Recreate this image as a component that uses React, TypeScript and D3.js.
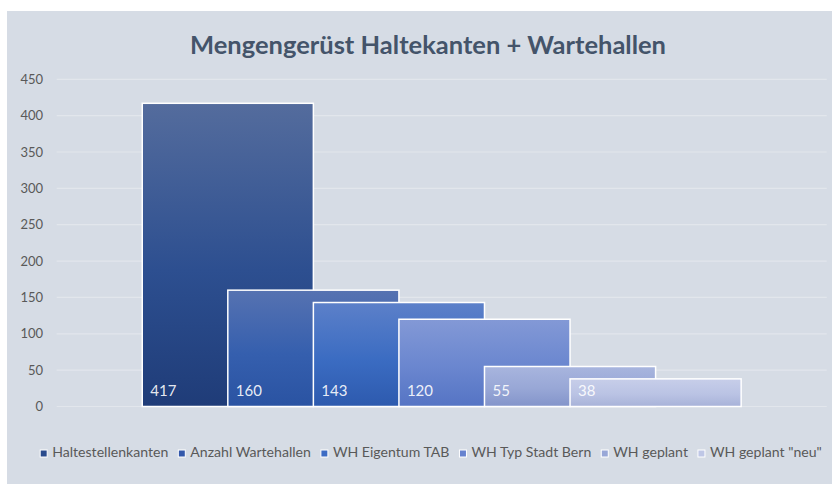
import React, { useEffect, useRef } from "react";
import * as d3 from "d3";

const series = [
  "Haltestellenkanten",
  "Anzahl Wartehallen",
  "WH Eigentum TAB",
  "WH Typ Stadt Bern",
  "WH geplant",
  'WH geplant "neu"',
];
const values = [417, 160, 143, 120, 55, 38];
const yTicks = [0, 50, 100, 150, 200, 250, 300, 350, 400, 450];

// gradient stops per series: top, middle, bottom
const gradients = [
  ["#546c9d", "#2d4f90", "#1f3c78"],
  ["#5672b1", "#355fae", "#2a53a2"],
  ["#5c80c9", "#3b6cc2", "#2d5aae"],
  ["#8399d6", "#6a86cf", "#5574c4"],
  ["#a8b5de", "#98a7d6", "#8394ca"],
  ["#c7cee9", "#bac3e4", "#a7b2d8"],
];
const swatch = ["#2a4b8d", "#3358ab", "#3d6cc4", "#6682cf", "#98a7d7", "#bfc7e6"];

const App: React.FC = () => {
  const svgRef = useRef<SVGSVGElement | null>(null);

  useEffect(() => {
    if (!svgRef.current) return;
    const svg = d3.select(svgRef.current);
    svg.selectAll("*").remove();

    const width = 832;
    const height = 484;
    const font = "Lato, 'Open Sans', sans-serif";
    const plot = { left: 56.7, right: 826.7, top: 79.3, bottom: 406.5 };

    svg.attr("width", width).attr("height", height);

    svg
      .append("rect")
      .attr("x", 7)
      .attr("y", 11)
      .attr("width", width - 7)
      .attr("height", height - 11)
      .attr("fill", "#d6dce5");

    svg
      .append("text")
      .attr("x", 428)
      .attr("y", 54)
      .attr("text-anchor", "middle")
      .attr("font-family", font)
      .attr("font-weight", 700)
      .attr("font-size", 25.5)
      .attr("fill", "#44546a")
      .text("Mengengerüst Haltekanten + Wartehallen");

    const y = d3.scaleLinear().domain([0, 450]).range([plot.bottom, plot.top]);

    // grid
    svg
      .append("g")
      .selectAll("line")
      .data(yTicks)
      .enter()
      .append("line")
      .attr("x1", plot.left)
      .attr("x2", plot.right)
      .attr("y1", (d) => y(d))
      .attr("y2", (d) => y(d))
      .attr("stroke", "#e2e6ec")
      .attr("stroke-width", 1.2);

    svg
      .append("g")
      .selectAll("text")
      .data(yTicks)
      .enter()
      .append("text")
      .attr("x", 43)
      .attr("y", (d) => y(d) + 4.5)
      .attr("text-anchor", "end")
      .attr("font-family", font)
      .attr("font-size", 13)
      .attr("fill", "#595959")
      .text((d) => d);

    // overlapping bars: width w, gap w/2 on each side, 50% overlap
    const w = (plot.right - plot.left) / 4.5;
    const x = d3
      .scaleBand<string>()
      .domain(series)
      .range([plot.left + w / 2, plot.left + 3.5 * w])
      .padding(0);
    const barW = x.bandwidth() * 2;

    const defs = svg.append("defs");
    gradients.forEach((g, i) => {
      const lg = defs
        .append("linearGradient")
        .attr("id", `grad${i}`)
        .attr("x1", 0)
        .attr("y1", 0)
        .attr("x2", 0)
        .attr("y2", 1);
      lg.append("stop").attr("offset", "0%").attr("stop-color", g[0]);
      lg.append("stop").attr("offset", "55%").attr("stop-color", g[1]);
      lg.append("stop").attr("offset", "100%").attr("stop-color", g[2]);
    });

    const bars = svg
      .append("g")
      .selectAll("g")
      .data(series.map((s, i) => ({ s, v: values[i], i })))
      .enter()
      .append("g");

    bars
      .append("rect")
      .attr("x", (d) => x(d.s)!)
      .attr("y", (d) => y(d.v))
      .attr("width", barW)
      .attr("height", (d) => y(0) - y(d.v))
      .attr("fill", (d) => `url(#grad${d.i})`)
      .attr("stroke", "#ffffff")
      .attr("stroke-width", 1.5);

    bars
      .append("text")
      .attr("x", (d) => x(d.s)! + 8)
      .attr("y", y(0) - 11)
      .attr("font-family", font)
      .attr("font-size", 15)
      .attr("fill", "#ffffff")
      .attr("fill-opacity", 0.9)
      .text((d) => d.v);

    // legend
    const legend = svg.append("g");
    const items = legend
      .selectAll("g")
      .data(series)
      .enter()
      .append("g");
    items
      .append("rect")
      .attr("width", 7)
      .attr("height", 7)
      .attr("y", -7)
      .attr("fill", (_, i) => swatch[i])
      .attr("stroke", "#ffffff")
      .attr("stroke-width", 1);
    items
      .append("text")
      .attr("x", 12)
      .attr("font-family", font)
      .attr("font-size", 14.1)
      .attr("fill", "#595959")
      .text((d) => d);

    let cursor = 0;
    const offsets: number[] = [];
    items.each(function () {
      offsets.push(cursor);
      const t = d3.select(this).select("text").node() as SVGTextElement;
      cursor += 12 + t.getComputedTextLength() + 10;
    });
    const total = cursor - 10;
    const start = 431 - total / 2;
    items.attr("transform", (_, i) => `translate(${start + offsets[i]},${457})`);
  }, []);

  return <svg ref={svgRef} style={{ position: "absolute", left: 0, top: 0 }}></svg>;
};

export default App;
